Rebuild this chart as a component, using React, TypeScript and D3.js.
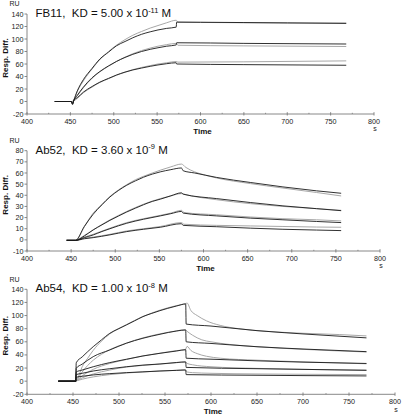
import React from 'react';
import * as d3 from 'd3';

type Pt = [number, number];

const TIME_TICKS = [400, 450, 500, 550, 600, 650, 700, 750, 800];
const TIME_MINOR = [425, 475, 525, 575, 625, 675, 725, 775];

const FB11_Y_TICKS = [-20, 0, 20, 40, 60, 80, 100, 120, 140];
const AB52_Y_TICKS = [-10, 0, 10, 20, 30, 40, 50, 60, 70, 80];
const AB54_Y_TICKS = [-20, 0, 20, 40, 60, 80, 100, 120, 140];

// FB11 — fitted (black) and measured (grey) sensorgrams
const FB11_FIT: Pt[][] = [
  [[432, 0], [451, 0], [452.5, -5], [454, 2], [458, 17], [465, 35], [475, 53], [484, 68], [494, 79], [503, 89], [513, 96], [522, 102], [532, 107.5], [542, 111.5], [551, 114.5], [561, 117], [572, 119], [572.5, 127], [600, 126.8], [650, 126.3], [700, 125.8], [768, 125]],
  [[432, 0], [451, 0], [452.5, -4], [454, 2], [458, 10], [465, 23], [475, 38], [484, 48], [494, 57], [503, 64], [513, 70.5], [522, 75.5], [532, 80], [542, 83.5], [551, 86], [561, 88.5], [572, 90.5], [572.5, 94], [650, 93], [768, 92]],
  [[432, 0], [451, 0], [452.5, -3], [454, 2], [458, 6], [465, 15], [475, 24], [484, 31], [494, 37], [503, 42.3], [513, 47], [522, 50.5], [532, 53.5], [542, 56.3], [551, 58.5], [561, 60.5], [572, 62], [572.5, 60], [650, 59], [768, 58]],
];
const FB11_MEAS: Pt[][] = [
  [[432, 0], [452, 0], [454, 2], [458, 16], [465, 33], [475, 52], [484, 67], [494, 80], [503, 90], [513, 99], [522, 106], [532, 112], [542, 117.5], [551, 121.5], [561, 126], [572, 130], [574, 127], [600, 126.5], [650, 126], [700, 125.5], [768, 125.5]],
  [[432, 0], [452, 0], [454, 1.5], [458, 9], [465, 22], [475, 37], [484, 47.5], [494, 56.5], [503, 64], [513, 71], [522, 76.5], [532, 81.5], [542, 85.5], [551, 88.5], [561, 91], [572, 93], [574, 90], [650, 89], [768, 88]],
  [[432, 0], [452, 0], [454, 1], [458, 5], [465, 14], [475, 23], [484, 30.5], [494, 36.5], [503, 42], [513, 47], [522, 51], [532, 54.5], [542, 57.5], [551, 60], [561, 62], [572, 64], [574, 63], [650, 63.5], [768, 65]],
];

// Ab52
const AB52_FIT: Pt[][] = [
  [[445, -0.5], [455, -0.5], [465, 12], [475, 23], [485, 31.5], [494, 38.5], [504, 44.5], [513, 49], [523, 53], [532, 56.2], [542, 59], [551, 61], [563, 63], [575, 64.5], [577, 62], [590, 60], [615, 56], [653, 51.5], [690, 47.5], [728, 44], [756, 41.8]],
  [[445, -0.5], [455, -0.5], [465, 3.5], [475, 8.9], [485, 13.5], [494, 17.5], [504, 21.5], [513, 25], [523, 28.5], [532, 31.5], [542, 34.5], [551, 36.5], [563, 39.5], [575, 42.2], [577, 41], [615, 37], [653, 33.5], [690, 30.5], [728, 28], [756, 26.2]],
  [[445, -0.5], [455, -0.5], [465, 2], [475, 4.4], [485, 7.5], [494, 10], [513, 14.9], [532, 18.5], [551, 21.5], [563, 23.5], [575, 25.5], [577, 24], [615, 21.5], [653, 19.5], [690, 18], [728, 16.5], [756, 15.5]],
  [[445, -0.5], [455, -0.5], [465, 1], [475, 2], [494, 4.5], [513, 7.4], [532, 9.5], [551, 11.3], [575, 14.5], [577, 13], [615, 11.8], [653, 10.5], [690, 9.5], [728, 8.8], [756, 8.3]],
];
const AB52_MEAS: Pt[][] = [
  [[445, 0], [455, 0], [465, 12], [475, 24], [485, 32], [494, 39], [504, 45], [513, 49.5], [523, 54], [532, 57], [542, 60], [551, 62.5], [563, 65.5], [575, 68], [580, 65], [590, 61], [600, 58.5], [615, 55.5], [653, 50.5], [690, 46.5], [728, 42.5], [756, 39.4]],
  [[445, 0], [455, 0], [465, 4], [475, 9], [494, 18], [513, 25.5], [532, 32], [551, 37], [563, 39.5], [575, 41.5], [580, 40.5], [615, 36], [653, 32.5], [690, 30], [728, 28], [756, 26.5]],
  [[445, 0], [455, 0], [465, 2.5], [475, 5], [494, 10.5], [513, 15.5], [532, 19], [551, 22], [563, 24], [575, 26.5], [578, 24.5], [615, 22.5], [653, 20.5], [690, 19], [728, 18], [756, 17]],
  [[445, 0], [455, 0], [465, 1.5], [475, 2.5], [494, 5], [513, 8], [532, 10], [551, 12], [575, 15.5], [578, 14], [615, 13], [653, 12.5], [690, 12], [728, 11.5], [756, 11.3]],
];

// Ab54
const AB54_FIT: Pt[][] = [
  [[434, 0], [453, 0], [453.5, 28], [460, 37], [472, 52.6], [481, 63], [490, 73], [499, 79.5], [508, 85.7], [517, 92], [526, 98.4], [535, 103], [544.6, 107.5], [553, 111], [562.7, 114.6], [572.5, 117.7], [573, 87], [600, 84], [650, 77], [700, 72], [769, 66]],
  [[434, 0], [453, 0], [453.5, 19.6], [460, 26], [472, 37.4], [490, 47.6], [508, 57.8], [526, 65.4], [544.6, 71.5], [562.7, 76.5], [572.5, 78], [573, 60], [600, 57.5], [650, 52.5], [700, 49], [769, 45]],
  [[434, 0], [453, 0], [453.5, 14], [460, 17], [472, 22], [490, 28.3], [508, 33.4], [526, 38.4], [544.6, 42.5], [562.7, 46], [572.5, 48], [573, 35], [600, 33.5], [650, 31], [700, 29], [769, 27]],
  [[434, 0], [453, 0], [453.5, 10], [460, 12], [472, 15.5], [490, 19], [508, 22], [526, 24.5], [544.6, 26.2], [562.7, 28.5], [572.5, 29.3], [573, 21], [650, 19], [700, 18], [769, 16.5]],
  [[434, 0], [453, 0], [453.5, 6], [460, 7.5], [472, 9.5], [490, 11.5], [508, 13], [526, 14.2], [544.6, 15.5], [562.7, 16.5], [572.5, 17], [573, 10], [650, 9], [700, 8.5], [769, 8]],
];
const AB54_MEAS: Pt[][] = [
  [[434, 0], [453, 0], [455, 4], [460, 22], [466, 35], [472, 47], [481, 61], [490, 72], [508, 86], [526, 98.5], [544, 108], [562, 115], [572, 118], [574, 119], [578, 108], [585, 100], [595, 92], [610, 85], [630, 80], [660, 76], [700, 73], [740, 71], [769, 69]],
  [[434, 0], [453, 0], [455, 3], [460, 14], [466, 24], [472, 32], [481, 41], [490, 48], [508, 58], [526, 66], [544, 72], [562, 76.5], [572, 78.5], [574, 76], [580, 70], [590, 63], [600, 60], [620, 56], [650, 52.5], [700, 48.5], [769, 44.5]],
  [[434, 0], [453, 0], [455, 2], [460, 8], [472, 18], [490, 27], [508, 33], [526, 38.5], [544, 42.5], [562, 46.5], [572, 48], [574, 53], [578, 47], [585, 42], [595, 38], [610, 35], [650, 32], [700, 29.5], [769, 26.5]],
  [[434, 0], [453, 0], [455, 1.5], [460, 5], [472, 11], [490, 17], [508, 21.5], [526, 24], [544, 26], [562, 28], [572, 29.5], [574, 27], [580, 25], [600, 22], [650, 19.5], [700, 18], [769, 17]],
  [[434, 0], [453, 0], [455, 1], [460, 3], [472, 6.5], [490, 10], [508, 12.5], [526, 14], [544, 15.5], [562, 16.5], [572, 17.5], [574, 14], [580, 13], [600, 12], [650, 11], [700, 10.5], [769, 10]],
];

const FONT = '"Liberation Sans", Arial, Helvetica, sans-serif';

interface PanelCfg {
  name: string;
  kd: string;
  exp: string;
  yTicks: number[];
  fit: Pt[][];
  meas: Pt[][];
  xEnd: number;
  yTop: number;
  yBottom: number;
}

const PANELS: PanelCfg[] = [
  { name: 'FB11', kd: '5.00', exp: '-11', yTicks: FB11_Y_TICKS, fit: FB11_FIT, meas: FB11_MEAS, xEnd: 374, yTop: 14, yBottom: 114 },
  { name: 'Ab52', kd: '3.60', exp: '-9', yTicks: AB52_Y_TICKS, fit: AB52_FIT, meas: AB52_MEAS, xEnd: 380, yTop: 150.7, yBottom: 251 },
  { name: 'Ab54', kd: '1.00', exp: '-8', yTicks: AB54_Y_TICKS, fit: AB54_FIT, meas: AB54_MEAS, xEnd: 395, yTop: 289.3, yBottom: 394.3 },
];

function Panel({ cfg }: { cfg: PanelCfg }) {
  const x0 = 27;
  const yt = cfg.yTicks;
  const x = d3.scaleLinear().domain([TIME_TICKS[0], TIME_TICKS[TIME_TICKS.length - 1]]).range([x0, cfg.xEnd]);
  const y = d3.scaleLinear().domain([yt[0], yt[yt.length - 1]]).range([cfg.yBottom, cfg.yTop]);
  const line = d3.line<Pt>().x(d => x(d[0])).y(d => y(d[1])).curve(d3.curveMonotoneX);
  const axisColor = '#7a7a7a';
  const midY = (cfg.yTop + cfg.yBottom) / 2 - 6;
  return (
    <g fontFamily={FONT}>
      {/* axes */}
      <line x1={x0} x2={x0} y1={cfg.yTop} y2={cfg.yBottom} stroke={axisColor} strokeWidth={0.9} />
      <line x1={x0} x2={cfg.xEnd} y1={cfg.yBottom} y2={cfg.yBottom} stroke={axisColor} strokeWidth={0.9} />
      {yt.map(v => (
        <g key={'y' + v}>
          <line x1={x0 - 2.5} x2={x0} y1={y(v)} y2={y(v)} stroke={axisColor} strokeWidth={0.9} />
          <text x={x0 - 3.5} y={y(v)} dy="0.35em" textAnchor="end" fontSize={7.2} fill="#222">{v}</text>
        </g>
      ))}
      {TIME_TICKS.map(v => (
        <g key={'x' + v}>
          <line x1={x(v)} x2={x(v)} y1={cfg.yBottom - 1.8} y2={cfg.yBottom + 1.5} stroke={axisColor} strokeWidth={0.9} />
          <text x={x(v)} y={cfg.yBottom + 7.5} dy="0.35em" textAnchor="middle" fontSize={7.2} fill="#222">{v}</text>
        </g>
      ))}
      {TIME_MINOR.map(v => (
        <line key={'m' + v} x1={x(v)} x2={x(v)} y1={cfg.yBottom - 1.2} y2={cfg.yBottom} stroke={axisColor} strokeWidth={0.8} />
      ))}
      <text x={cfg.xEnd + 1} y={cfg.yBottom + 15} dy="0.35em" textAnchor="middle" fontSize={7} fill="#222">s</text>
      <text x={(x0 + cfg.xEnd) / 2 + 2} y={cfg.yBottom + 17} dy="0.35em" textAnchor="middle" fontSize={8} fontWeight="bold" fill="#111">Time</text>
      <text x={14.5} y={cfg.yTop - 10} dy="0.35em" textAnchor="middle" fontSize={7} fill="#222">RU</text>
      <text transform={`translate(5,${midY}) rotate(-90)`} dy="0.35em" textAnchor="middle" fontSize={8} fontWeight="bold" fill="#111">Resp. Diff.</text>
      {/* title */}
      <text x={35.5} y={cfg.yTop + 3} fontSize={11.5} fill="#111">
        {`${cfg.name},\u00a0\u00a0KD = ${cfg.kd} x 10`}
        <tspan fontSize={7.5} dy={-4.5}>{cfg.exp}</tspan>
        <tspan dy={4.5}>{' M'}</tspan>
      </text>
      {/* curves */}
      {cfg.meas.map((s, i) => (
        <path key={'m' + i} d={line(s) || ''} fill="none" stroke="#a8a8a8" strokeWidth={1} />
      ))}
      {cfg.fit.map((s, i) => (
        <path key={'f' + i} d={line(s) || ''} fill="none" stroke="#1a1a1a" strokeWidth={0.9} />
      ))}
    </g>
  );
}

export default function App() {
  return (
    <svg width={404} height={419} viewBox="0 0 404 419" style={{ position: 'absolute', left: 0, top: 0, background: '#fff' }}>
      <rect width={404} height={419} fill="#fff" />
      {PANELS.map(p => <Panel key={p.name} cfg={p} />)}
    </svg>
  );
}
